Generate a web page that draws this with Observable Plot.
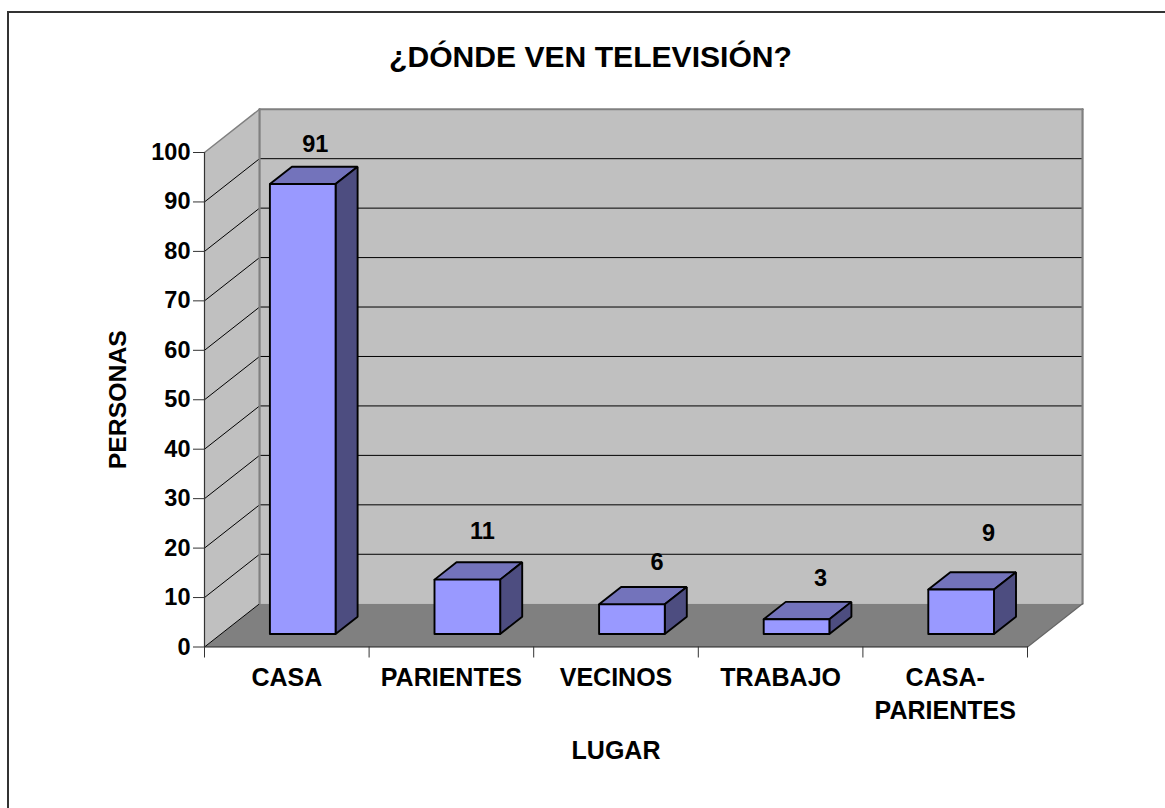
<!DOCTYPE html>
<html>
<head>
<meta charset="utf-8">
<script src="https://cdn.jsdelivr.net/npm/d3@7"></script>
<script src="https://cdn.jsdelivr.net/npm/@observablehq/plot@0.6"></script>
<style>
html,body{margin:0;padding:0;background:#fff;overflow:hidden;width:1165px;height:808px}
#wrap{position:relative;width:1165px;height:808px;overflow:hidden}
#frame{position:absolute;left:7px;top:11px;width:1300px;height:1000px;border:2px solid #333;box-sizing:border-box}
#title{position:absolute;left:0;top:40px;width:1181px;text-align:center;font:bold 30.1px "Liberation Sans",Arial,sans-serif;color:#000}
#chart{position:absolute;left:0;top:0}
svg{background:transparent !important}
</style>
</head>
<body>
<div id="wrap"><div id="frame"></div><div id="chart"></div><div id="title">¿DÓNDE VEN TELEVISIÓN?</div></div>
<script>
const categories = ["CASA", "PARIENTES", "VECINOS", "TRABAJO", "CASA-\nPARIENTES"];
const values = [91, 11, 6, 3, 9];
const yTicks = [0, 10, 20, 30, 40, 50, 60, 70, 80, 90, 100];
const xTicks = [0, 1, 2, 3, 4, 5];

// Oblique projection, in data units: depth z (0 front, 1 back) moves a point right and up.
const depthX = 0.3345, depthY = 8.75;
const P = (x, y, z) => ({x: x + z * depthX, y: y + z * depthY});
const poly = pts => [...pts, pts[0]].map(([x, y, z]) => P(x, y, z));
const withId = (id, pts) => poly(pts).map(p => ({...p, id}));

const X0 = 0.297, X1 = 0.696, Z0 = 0.3, Z1 = 0.7;
const face = (fn) => values.flatMap((v, i) => withId(i, fn(i + X0, i + X1, v)));
const fronts = face((a, b, v) => [[a,0,Z0],[b,0,Z0],[b,v,Z0],[a,v,Z0]]);
const sides  = face((a, b, v) => [[b,0,Z0],[b,0,Z1],[b,v,Z1],[b,v,Z0]]);
const tops   = face((a, b, v) => [[a,v,Z0],[b,v,Z0],[b,v,Z1],[a,v,Z1]]);

const shape = (data, fill, stroke, strokeWidth) =>
  Plot.line(data, {x:"x", y:"y", z:"id", fill, stroke, strokeWidth, curve:"linear", strokeLinejoin:"miter"});
const seg = (a, b, stroke, strokeWidth) =>
  Plot.line([P(...a), P(...b)], {x:"x", y:"y", stroke, strokeWidth});

const gridBack = yTicks.filter(t => t > 0 && t < 100);
const labelNudge = [[12.5,-40],[15,-48],[25,-42],[24,-41],[27.5,-56]];

const fontFamily = '"Liberation Sans",Arial,sans-serif';
const chart = Plot.plot({
  width: 1165, height: 808,
  marginLeft: 204, marginRight: 138, marginTop: 152, marginBottom: 161.5,
  style: {fontFamily, color:"#000", background:"transparent"},
  x: {domain:[0,5]},
  y: {domain:[0,100]},
  marks: [
    // walls and floor
    shape(withId("back",[[0,0,1],[5,0,1],[5,100,1],[0,100,1]]), "#c0c0c0", "none", 0),
    shape(withId("left",[[0,0,0],[0,0,1],[0,100,1],[0,100,0]]), "#c0c0c0", "none", 0),
    shape(withId("floor",[[0,0,0],[5,0,0],[5,0,1],[0,0,1]]), "#808080", "none", 0),
    // gridlines on both walls
    ...gridBack.map(t => seg([0,t,1],[5,t,1], "#000", 1)),
    ...yTicks.filter(t => t < 100).map(t => seg([0,t,0],[0,t,1], "#000", 1)),
    // wall edges
    seg([0,0,1],[0,100,1], "#808080", 2.2),
    seg([5,0,1],[5,100,1], "#808080", 2.2),
    seg([0,100,1],[5,100,1], "#808080", 2.2),
    seg([0,100,0],[0,100,1], "#808080", 1.5),
    seg([5,0,0],[5,0,1], "#666", 1.2),
    seg([0,0,0],[0,100,0], "#333", 1.2),
    seg([0,0,0],[5,0,0], "#222", 1.2),
    // bars
    shape(tops, "#7373bb", "#000", 1.9),
    shape(sides, "#4d4d80", "#000", 1.9),
    shape(fronts, "#9999ff", "#000", 1.9),
    // value labels
    ...values.map((v, i) => Plot.text([v], {
      x: () => P(i + (X0 + X1) / 2, v, Z0).x, y: () => P(i, v, Z0).y, text: d => String(d),
      dx: labelNudge[i][0], dy: labelNudge[i][1],
      fontSize: 23.5, fontWeight:"bold", fill:"#000"
    })),
    // axes
    Plot.axisY(yTicks, {anchor:"left", tickSize:11, tickPadding:3, fontSize:23.5, fontWeight:"bold",
      stroke:"#333", fill:"#000", label:null}),
    Plot.axisY([], {anchor:"left", tickSize:0, fontSize:24.8, fontWeight:"bold", fill:"#000",
      label:"PERSONAS", labelAnchor:"center", labelOffset:96, labelArrow:"none"}),
    Plot.axisX(xTicks, {anchor:"bottom", tickSize:11, tickFormat:() => "", stroke:"#333", label:null}),
    Plot.axisX(xTicks.slice(0,-1).map(d => d + 0.5), {anchor:"bottom", tickSize:0, tickPadding:16,
      tickFormat:d => categories[d - 0.5], fontSize:25, lineHeight:1.3, fontWeight:"bold", fill:"#000",
      label:"LUGAR", labelAnchor:"center", labelOffset:112, labelArrow:"none", lineWidth:20})
  ]
});
document.getElementById("chart").appendChild(chart);
</script>
</body>
</html>
